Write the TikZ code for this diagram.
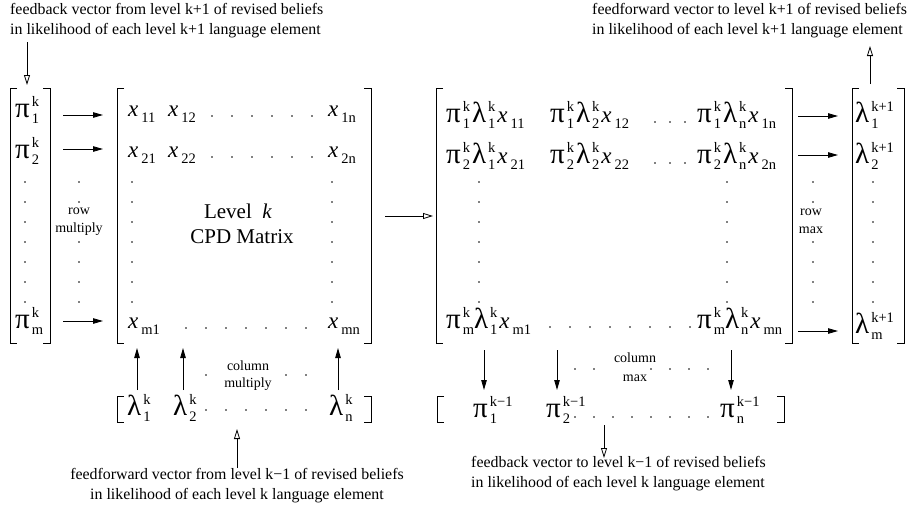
\documentclass[tikz,border=0pt]{standalone}
\usepackage{fontspec}
\setmainfont{Liberation Serif}
\usetikzlibrary{arrows.meta}
\newsavebox\gsupbox
\newsavebox\gsubbox
\newlength\gsw
\newcommand\gf{\fontsize{29}{29}\selectfont}
\newcommand\scf{\fontsize{14.5}{14.5}\selectfont}
\newcommand\xf{\fontsize{23}{23}\selectfont\itshape}
\newcommand\gs[3]{{\gf #1}\kern2pt\sbox\gsupbox{\scf #2}\sbox\gsubbox{\scf #3}\setlength\gsw{\wd\gsubbox}\ifdim\wd\gsupbox>\gsw\setlength\gsw{\wd\gsupbox}\fi\makebox[\gsw][l]{\rlap{\raisebox{11pt}{\usebox\gsupbox}}\raisebox{-6pt}{\usebox\gsubbox}}}
\newcommand\xs[1]{{\xf x}\kern3pt\raisebox{-6pt}{\scf #1}}
\tikzset{
  ent/.style={inner sep=0pt, anchor=base west},
  lbl/.style={inner sep=0pt, font=\fontsize{15.9}{20}\selectfont, align=left},
  sml/.style={inner sep=0pt, font=\fontsize{14}{16}\selectfont},
  big/.style={inner sep=0pt, font=\fontsize{21}{24}\selectfont},
  arr/.style={line width=0.8pt, -{Triangle[length=10pt,width=5.5pt]}},
  harr/.style={line width=0.8pt, -{Triangle[open,length=10pt,width=6pt]}},
  brk/.style={line width=0.8pt}
}
\begin{document}
\begin{tikzpicture}[x=1pt,y=-1pt]
\useasboundingbox (0,0) rectangle (910,512);
% ---------- top labels ----------
\node[lbl, anchor=north west] (tl) at (10,3) {feedback vector from level k+1 of revised beliefs\\in likelihood of each level k+1 language element};
\node[lbl, anchor=north west] (tr) at (592,3) {feedforward vector to level k+1 of revised beliefs\\in likelihood of each level k+1 language element};
\coordinate (tla) at (27,42);
\coordinate (tlb) at (27,85);
\draw[harr] (tla) -- (tlb);
\coordinate (tra) at (870,84);
\coordinate (trb) at (870,46);
\draw[harr] (tra) -- (trb);
% ---------- left vector ----------
\draw[brk] (17,88) -- (10,88) -- (10,343) -- (17,343);
\draw[brk] (43,88) -- (50,88) -- (50,343) -- (43,343);
\node[ent] (lv1) at (15,117) {\gs{π}{k}{1}};
\node[ent] (lv2) at (15,158) {\gs{π}{k}{2}};
\node[ent] (lvm) at (15,328) {\gs{π}{k}{m}};
\foreach \yy in {182,202,...,302} \fill (25,\yy) circle (0.9pt);
% row multiply arrows
\coordinate (ra1) at (63,115); \coordinate (rb1) at (103,115);
\coordinate (ra2) at (63,149); \coordinate (rb2) at (103,149);
\coordinate (ra3) at (63,321); \coordinate (rb3) at (103,321);
\draw[arr] (ra1) -- (rb1);
\draw[arr] (ra2) -- (rb2);
\draw[arr] (ra3) -- (rb3);
\foreach \yy in {182,202,242,262,282,302} \fill (79,\yy) circle (0.9pt);
\node[sml] (rm1) at (79,211) {row};
\node[sml] (rm2) at (79,229) {multiply};
% ---------- left matrix ----------
\draw[brk] (124,88) -- (117,88) -- (117,343) -- (124,343);
\draw[brk] (364,88) -- (371,88) -- (371,343) -- (364,343);
\node[ent] (a11) at (128,116) {\xs{11}};
\node[ent] (a12) at (168,116) {\xs{12}};
\node[ent] (a1n) at (328,116) {\xs{1n}};
\node[ent] (a21) at (128,157) {\xs{21}};
\node[ent] (a22) at (168,157) {\xs{22}};
\node[ent] (a2n) at (328,157) {\xs{2n}};
\node[ent] (am1) at (128,328) {\xs{m1}};
\node[ent] (amn) at (328,328) {\xs{mn}};
\foreach \xx in {212,232,...,312} {\fill (\xx,116) circle (0.9pt); \fill (\xx,157) circle (0.9pt);}
\foreach \yy in {182,202,...,302} {\fill (132,\yy) circle (0.9pt); \fill (332,\yy) circle (0.9pt);}
\foreach \xx in {186,206,...,306} \fill (\xx,328) circle (0.9pt);
\node[big] (lv) at (238,211) {Level~~\textit{k}};
\node[big] (cpd) at (242,237) {CPD Matrix};
% arrow between matrices
\coordinate (ma) at (385,216); \coordinate (mb) at (433,216);
\draw[harr] (ma) -- (mb);
% ---------- bottom left ----------
\coordinate (ua1) at (137,390); \coordinate (ub1) at (137,348);
\coordinate (ua2) at (183,390); \coordinate (ub2) at (183,348);
\coordinate (ua3) at (338,390); \coordinate (ub3) at (338,348);
\draw[arr] (ua1) -- (ub1);
\draw[arr] (ua2) -- (ub2);
\draw[arr] (ua3) -- (ub3);
\draw[brk] (124,396) -- (117,396) -- (117,422) -- (124,422);
\draw[brk] (364,396) -- (371,396) -- (371,422) -- (364,422);
\node[ent] (l1) at (127,415) {\gs{λ}{k}{1}};
\node[ent] (l2) at (173,415) {\gs{λ}{k}{2}};
\node[ent] (ln) at (329,415) {\gs{λ}{k}{n}};
\foreach \xx in {206,226,...,306} \fill (\xx,410) circle (0.9pt);
\foreach \xx in {206,286,306} \fill (\xx,375) circle (0.9pt);
\node[sml] (cm1) at (248,366) {column};
\node[sml] (cm2) at (248,384) {multiply};
\coordinate (fa) at (237,468); \coordinate (fb) at (237,429);
\draw[harr] (fa) -- (fb);
\node[lbl, anchor=north, align=center] (bl) at (237,468) {feedforward vector from level k−1 of revised beliefs\\in likelihood of each level k language element};
% ---------- right matrix ----------
\draw[brk] (443,88) -- (436,88) -- (436,343) -- (443,343);
\draw[brk] (785,88) -- (792,88) -- (792,343) -- (785,343);
\node[ent] (b11) at (446,122) {\gs{π}{k}{1}\kern2pt\gs{λ}{k}{1}\kern2pt\xs{11}};
\node[ent] (b12) at (550,122) {\gs{π}{k}{1}\kern2pt\gs{λ}{k}{2}\kern2pt\xs{12}};
\node[ent] (b1n) at (697,122) {\gs{π}{k}{1}\kern2pt\gs{λ}{k}{n}\kern2pt\xs{1n}};
\node[ent] (b21) at (446,163) {\gs{π}{k}{2}\kern2pt\gs{λ}{k}{1}\kern2pt\xs{21}};
\node[ent] (b22) at (550,163) {\gs{π}{k}{2}\kern2pt\gs{λ}{k}{2}\kern2pt\xs{22}};
\node[ent] (b2n) at (697,163) {\gs{π}{k}{2}\kern2pt\gs{λ}{k}{n}\kern2pt\xs{2n}};
\node[ent] (bm1) at (446,328) {\gs{π}{k}{m}\gs{λ}{k}{1}\kern2pt\xs{m1}};
\node[ent] (bmn) at (697,328) {\gs{π}{k}{m}\gs{λ}{k}{n}\kern2pt\xs{mn}};
\foreach \xx in {655,670,685} {\fill (\xx,122) circle (0.9pt); \fill (\xx,163) circle (0.9pt);}
\foreach \yy in {182,202,...,302} {\fill (479,\yy) circle (0.9pt); \fill (727,\yy) circle (0.9pt);}
\foreach \xx in {550,570,...,690} \fill (\xx,327) circle (0.9pt);
% row max arrows
\coordinate (sa1) at (798,116); \coordinate (sb1) at (838,116);
\coordinate (sa2) at (798,155); \coordinate (sb2) at (838,155);
\coordinate (sa3) at (798,331); \coordinate (sb3) at (838,331);
\draw[arr] (sa1) -- (sb1);
\draw[arr] (sa2) -- (sb2);
\draw[arr] (sa3) -- (sb3);
\foreach \yy in {182,202,242,262,282,302} \fill (813,\yy) circle (0.9pt);
\node[sml] (rx1) at (811,212) {row};
\node[sml] (rx2) at (811,230) {max};
% ---------- right vector ----------
\draw[brk] (859,88) -- (852,88) -- (852,343) -- (859,343);
\draw[brk] (897,88) -- (904,88) -- (904,343) -- (897,343);
\node[ent] (rv1) at (855,122) {\gs{λ}{k+1}{1}};
\node[ent] (rv2) at (855,163) {\gs{λ}{k+1}{2}};
\node[ent] (rvm) at (855,333) {\gs{λ}{k+1}{m}};
\foreach \yy in {182,202,...,302} \fill (873,\yy) circle (0.9pt);
% ---------- bottom right ----------
\coordinate (da1) at (484,350); \coordinate (db1) at (484,390);
\coordinate (da2) at (557,350); \coordinate (db2) at (557,390);
\coordinate (da3) at (731,350); \coordinate (db3) at (731,390);
\draw[arr] (da1) -- (db1);
\draw[arr] (da2) -- (db2);
\draw[arr] (da3) -- (db3);
\draw[brk] (444,396) -- (437,396) -- (437,422) -- (444,422);
\draw[brk] (777,396) -- (784,396) -- (784,422) -- (777,422);
\node[ent] (p1) at (473,417) {\gs{π}{k−1}{1}};
\node[ent] (p2) at (546,417) {\gs{π}{k−1}{2}};
\node[ent] (pn) at (720,417) {\gs{π}{k−1}{n}};
\foreach \xx in {575,594,...,708} \fill (\xx,417) circle (0.9pt);
\foreach \xx in {575,594,651,670,689,708} \fill (\xx,369) circle (0.9pt);
\node[sml] (cx1) at (635,358) {column};
\node[sml] (cx2) at (635,378) {max};
\coordinate (ga) at (604,425); \coordinate (gb) at (604,458);
\draw[harr] (ga) -- (gb);
\node[lbl, anchor=north west] (br) at (471,456) {feedback vector to level k−1 of revised beliefs\\in likelihood of each level k language element};
\end{tikzpicture}
\end{document}
